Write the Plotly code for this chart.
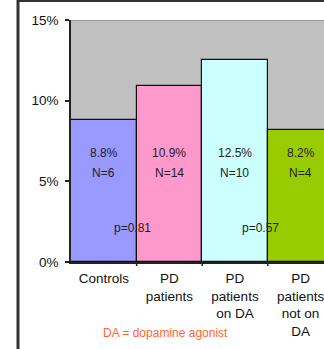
import plotly.graph_objects as go

categories = ["Controls", "PD<br>patients", "PD<br>patients<br>on DA", "PD<br>patients<br>not on<br>DA"]
values = [8.8, 10.9, 12.5, 8.2]
pct_labels = ["8.8%", "10.9%", "12.5%", "8.2%"]
n_labels = ["N=6", "N=14", "N=10", "N=4"]
colors = ["#9999FF", "#FF99CC", "#CCFFFF", "#99CC00"]
p_labels = ["p=0.81", "p=0.57"]
p_x = [0.43, 2.39]
y_ticks = [0, 5, 10, 15]
y_ticktext = ["0%", "5%", "10%", "15%"]

FONT = "Liberation Sans, Arial, sans-serif"
xidx = list(range(len(categories)))

fig = go.Figure()
fig.add_trace(go.Bar(
    x=xidx, y=values, width=1,
    marker=dict(color=colors, line=dict(color="#111111", width=1.2)),
    hoverinfo="skip",
))

annotations = []
for i in xidx:
    annotations.append(dict(x=i, y=6.77, text=pct_labels[i], showarrow=False,
                            font=dict(family=FONT, size=12, color="#222222")))
    annotations.append(dict(x=i, y=5.5, text=n_labels[i], showarrow=False,
                            font=dict(family=FONT, size=12, color="#222222")))
for t, px in zip(p_labels, p_x):
    annotations.append(dict(x=px, y=2.09, text=t, showarrow=False,
                            font=dict(family=FONT, size=12, color="#222222")))
annotations.append(dict(xref="paper", yref="paper", x=(165 - 71) / 253, y=-(333 - 262) / 242,
                        xanchor="center", yanchor="middle",
                        text="DA = dopamine agonist", showarrow=False,
                        font=dict(family=FONT, size=12, color="#FF6633")))

shapes = [
    dict(type="line", xref="paper", yref="y", x0=0, x1=1, y0=15, y1=15,
         line=dict(color="#909090", width=1.5), layer="below"),
    dict(type="line", xref="paper", yref="paper", x0=(18 - 71) / 253, x1=(18 - 71) / 253,
         y0=-(349 - 262) / 242, y1=1 + 20 / 242, line=dict(color="#333333", width=3)),
    dict(type="line", xref="paper", yref="paper", x0=(18 - 71) / 253, x1=1.1,
         y0=1 + 19.5 / 242, y1=1 + 19.5 / 242, line=dict(color="#333333", width=3)),
]

fig.update_layout(
    width=324, height=349,
    margin=dict(l=71, r=0, t=20, b=87),
    paper_bgcolor="white",
    plot_bgcolor="#C0C0C0",
    showlegend=False,
    bargap=0,
    annotations=annotations,
    shapes=shapes,
    font=dict(family=FONT, size=13.5, color="#111111"),
    xaxis=dict(
        tickmode="array", tickvals=xidx, ticktext=categories,
        range=[-0.5, 3.357], showgrid=False, zeroline=False,
        showline=True, linecolor="#222222", linewidth=1.5,
        ticks="", fixedrange=True, ticklabeloverflow="allow",
        ticklabelstandoff=3,
        tickfont=dict(family=FONT, size=13.5, color="#111111"),
    ),
    yaxis=dict(
        range=[0, 15], tickvals=y_ticks, ticktext=y_ticktext,
        showgrid=False, zeroline=False,
        showline=True, linecolor="#222222", linewidth=1.5,
        ticks="outside", ticklen=4, tickcolor="#222222", tickwidth=1.5,
        ticklabelstandoff=4,
        tickfont=dict(family=FONT, size=13.5, color="#111111"),
    ),
)

for b in [0.5, 1.5, 2.5]:
    fig.add_shape(type="line", xref="x", yref="paper", x0=b, x1=b, y0=0, y1=-4 / 242,
                  line=dict(color="#222222", width=1.5))

fig.write_html("out.html", config={"displayModeBar": False},
               post_script="document.body.style.margin='0';document.body.style.overflow='hidden';")
